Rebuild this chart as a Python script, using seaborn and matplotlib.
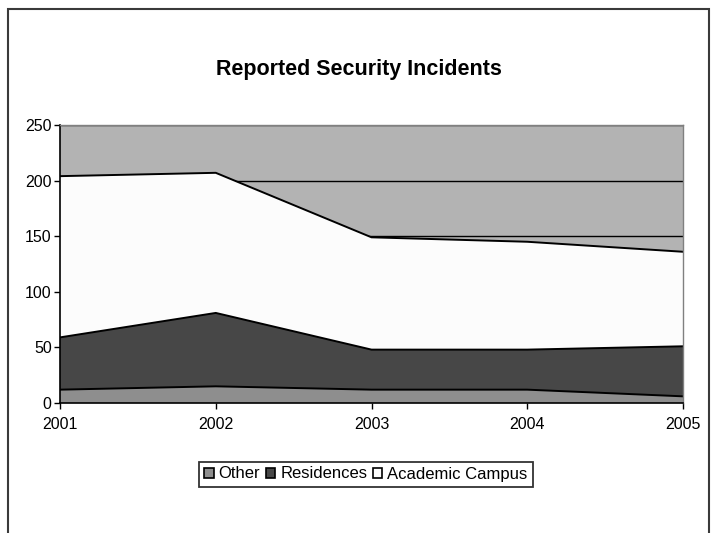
import matplotlib
matplotlib.use("Agg")
import matplotlib.pyplot as plt
from matplotlib.patches import Patch, Rectangle
import seaborn as sns
import pandas as pd

years = [2001, 2002, 2003, 2004, 2005]
other = [12, 15, 12, 12, 6]
residences = [47, 66, 36, 36, 45]
academic = [145, 126, 101, 97, 85]
series_names = ["Other", "Residences", "Academic Campus"]
series_colors = ["#8e8e8e", "#474747", "#fcfcfc"]
yticks = [0, 50, 100, 150, 200, 250]

sns.set_style("white")
plt.rcParams["font.family"] = ["Liberation Sans", "DejaVu Sans"]
plt.rcParams["text.color"] = "black"
plt.rcParams["xtick.color"] = "black"
plt.rcParams["ytick.color"] = "black"

fig = plt.figure(figsize=(7.12, 5.33), dpi=100)
ax = fig.add_axes([60 / 712, 1 - 403 / 533, 623 / 712, 278 / 533])

# plot area background with horizontal gridlines drawn behind the areas
ax.set_facecolor("#b3b3b3")
for y in yticks[1:]:
    ax.axhline(y, color="black", lw=1.0, zorder=0.5)

ax.stackplot(years, other, residences, academic, colors=series_colors,
             edgecolor="none", zorder=1)

df = pd.DataFrame({"year": years, "Other": other,
                   "Residences": residences, "Academic Campus": academic})
cum = df[series_names].cumsum(axis=1)
for name in series_names:
    sns.lineplot(x=df["year"], y=cum[name], color="black", lw=1.4, ax=ax, zorder=2)

ax.set_xlim(2001, 2005)
ax.set_ylim(0, 250)
ax.set_xticks(years)
ax.set_xticklabels([str(y) for y in years], fontsize=11.5)
ax.set_yticks(yticks)
ax.set_yticklabels([str(v) for v in yticks], fontsize=11.5)
ax.set_xlabel("")
ax.set_ylabel("")
ax.tick_params(axis="both", direction="out", length=4, width=1, color="black",
               left=True, bottom=True)
ax.tick_params(axis="x", pad=6)
ax.tick_params(axis="y", pad=2)

for side in ["left", "bottom"]:
    ax.spines[side].set_color("black")
    ax.spines[side].set_linewidth(1.2)
for side in ["top", "right"]:
    ax.spines[side].set_color("#808080")
    ax.spines[side].set_linewidth(1.0)

fig.text(359 / 712, 1 - 70 / 533, "Reported Security Incidents",
         ha="center", va="center", fontsize=15.5, fontweight="bold")

handles = [Patch(facecolor=c, edgecolor="black", lw=1.2) for c in series_colors]
leg = fig.legend(handles, series_names, loc="center",
                 bbox_to_anchor=(366 / 712, 1 - 474 / 533), ncol=3,
                 fontsize=12, frameon=True, fancybox=False,
                 handlelength=0.55, handleheight=0.55, handletextpad=0.3,
                 columnspacing=0.35, borderpad=0.3, borderaxespad=0)
leg.get_frame().set_edgecolor("black")
leg.get_frame().set_linewidth(1.3)

# outer chart border, open at the bottom edge
fig.patches.append(Rectangle((8 / 712, -0.05), 701 / 712, 1 - 9 / 533 + 0.05,
                             transform=fig.transFigure, fill=False,
                             edgecolor="#3a3a3a", lw=1.5))

fig.savefig("out.png", dpi=100)
